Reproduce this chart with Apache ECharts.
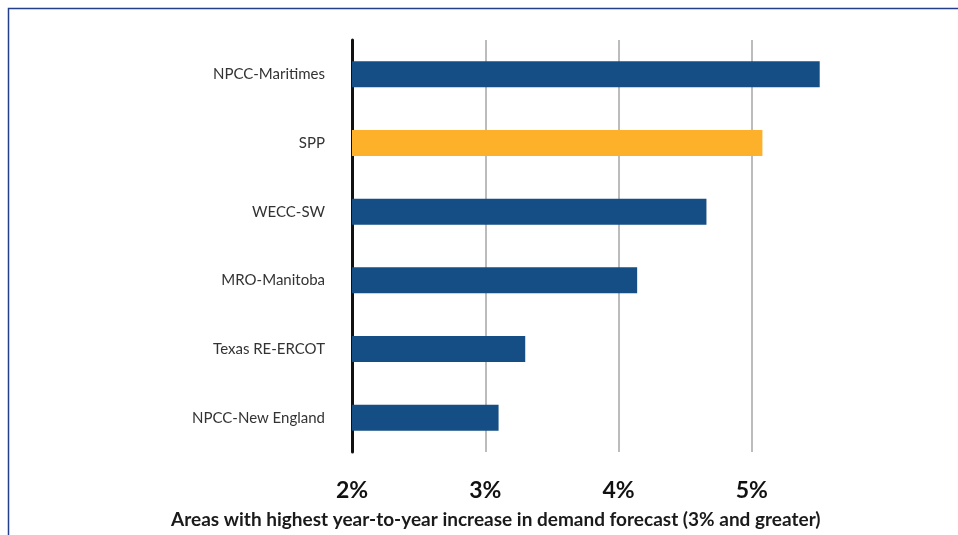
<!DOCTYPE html>
<html>
<head>
<meta charset="utf-8">
<script src="https://cdn.jsdelivr.net/npm/echarts@6/dist/echarts.min.js"></script>
<style>
  html, body { margin: 0; padding: 0; background: #fff; }
  #main { width: 958px; height: 535px; }
</style>
</head>
<body>
<div id="main"></div>
<script>
// areas, listed top to bottom as in the chart
var areas = ['NPCC-Maritimes', 'SPP', 'WECC-SW', 'MRO-Manitoba', 'Texas RE-ERCOT', 'NPCC-New England'];
// year-to-year increase in demand forecast, percent
var increase = [5.51, 5.08, 4.66, 4.14, 3.30, 3.10];
var highlight = 'SPP';
var tickValues = [2, 3, 4, 5];
var axisTitle = 'Areas with highest year-to-year increase in demand forecast (3% and greater)';

var font = 'Lato, "Open Sans", sans-serif';

function initChart() {
    var myChart = echarts.init(document.getElementById('main'));
    var option = {
        animation: false,
        grid: {
            left: 352,
            right: 73,
            top: 40,
            bottom: 83
        },
        xAxis: {
            type: 'value',
            min: 2,
            max: 6,
            interval: 1,
            axisLine: { show: false },
            axisTick: { show: false },
            axisLabel: {
                margin: 27,
                fontFamily: font,
                fontWeight: 'bold',
                fontSize: 23,
                color: '#111',
                formatter: function (v) {
                    return tickValues.indexOf(v) >= 0 ? v + '%' : '';
                }
            },
            splitLine: {
                lineStyle: {
                    color: ['#a6a6a6', '#a6a6a6', '#a6a6a6', '#a6a6a6', 'rgba(0,0,0,0)'],
                    width: 1.5
                }
            }
        },
        yAxis: {
            type: 'category',
            data: areas,
            inverse: true,
            axisTick: { show: false },
            axisLine: {
                show: true,
                lineStyle: { color: '#111', width: 3 }
            },
            axisLabel: {
                margin: 27,
                fontFamily: font,
                fontSize: 15,
                color: '#333'
            }
        },
        graphic: [
            {
                type: 'polyline',
                shape: { points: [[8.5, 535], [8.5, 8.5], [958, 8.5]] },
                style: { stroke: '#233f8c', lineWidth: 1.5, fill: null }
            },
            {
                type: 'text',
                left: 171,
                top: 510,
                style: {
                    text: axisTitle,
                    fontFamily: font,
                    fontWeight: 'bold',
                    fontSize: 19,
                    fill: '#1a1a1a'
                }
            }
        ],
        series: [
            {
                type: 'bar',
                barWidth: 26,
                data: increase.map(function (v, i) {
                    return {
                        value: v,
                        itemStyle: { color: areas[i] === highlight ? '#fdb02a' : '#154e84' }
                    };
                })
            }
        ]
    };
    myChart.setOption(option);
}

initChart();
</script>
</body>
</html>
